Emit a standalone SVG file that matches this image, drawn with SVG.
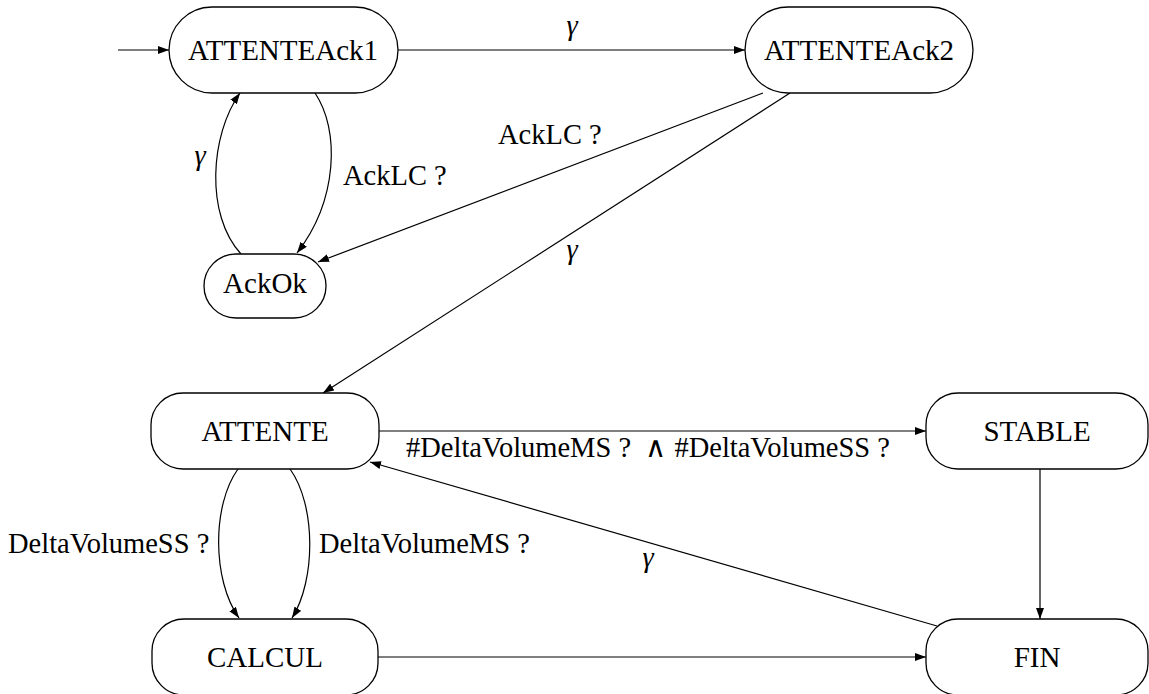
<svg xmlns="http://www.w3.org/2000/svg" width="1149" height="694" viewBox="0 0 1149 694" font-family="'Liberation Serif', 'Times New Roman', Times, serif">
<style>
.node rect{fill:#fff;stroke:#000;stroke-width:1.3}
.node text{font-family:'Liberation Serif','Times New Roman',Times,serif;font-size:29px;text-anchor:middle;fill:#000}
.edges path{fill:none;stroke:#000;stroke-width:1.2;marker-end:url(#arr)}
.lbl{font-family:'Liberation Serif','Times New Roman',Times,serif;font-size:28.5px;fill:#000}
.g{font-style:italic;text-anchor:middle}
</style>
<defs>
<marker id="arr" markerUnits="userSpaceOnUse" markerWidth="12" markerHeight="8" refX="11" refY="4" orient="auto">
<path d="M0,0 L11,4 L0,8 Z" fill="#000"/>
</marker>
</defs>
<g class="edges">
<path d="M118,50 L169,50"/>
<path d="M398,50 L745,50"/>
<path d="M315,93 C340,130 338,200 297,253"/>
<path d="M241,254 C205,215 210,135 240,93"/>
<path d="M763,93 L318,262"/>
<path d="M790,93 L323,393"/>
<path d="M379,431 L926,431"/>
<path d="M238,469 C212,505 212,580 239,618"/>
<path d="M290,469 C316,505 316,580 292,618"/>
<path d="M378,657 L926,657"/>
<path d="M1040,469 L1040,619"/>
<path d="M937,626 L370,462"/>
</g>
<g class="labels">
<text class="lbl g" x="572" y="35">γ</text>
<text class="lbl" x="343" y="185">AckLC ?</text>
<text class="lbl" x="498" y="144">AckLC ?</text>
<text class="lbl g" x="200" y="165">γ</text>
<text class="lbl g" x="572" y="259">γ</text>
<text class="lbl" x="406" y="457">#DeltaVolumeMS ?</text>
<text class="lbl" x="655" y="457" text-anchor="middle">∧</text>
<text class="lbl" x="890" y="457" text-anchor="end">#DeltaVolumeSS ?</text>
<text class="lbl" x="8" y="553">DeltaVolumeSS ?</text>
<text class="lbl" x="319" y="553">DeltaVolumeMS ?</text>
<text class="lbl g" x="648" y="567">γ</text>
</g>
<g id="ATTENTEAck1" class="node"><rect x="169" y="7" width="229" height="86" rx="43"/><text x="283" y="60">ATTENTEAck1</text></g>
<g id="ATTENTEAck2" class="node"><rect x="745" y="7" width="228" height="86" rx="43"/><text x="859" y="60">ATTENTEAck2</text></g>
<g id="AckOk" class="node"><rect x="204" y="254" width="122" height="64" rx="32"/><text x="265" y="293">AckOk</text></g>
<g id="ATTENTE" class="node"><rect x="151" y="393" width="228" height="76" rx="32"/><text x="265" y="441">ATTENTE</text></g>
<g id="STABLE" class="node"><rect x="926" y="393" width="222" height="76" rx="32"/><text x="1037" y="441">STABLE</text></g>
<g id="CALCUL" class="node"><rect x="152" y="619" width="226" height="76" rx="32"/><text x="265" y="667">CALCUL</text></g>
<g id="FIN" class="node"><rect x="926" y="619" width="222" height="76" rx="32"/><text x="1037" y="667">FIN</text></g>
</svg>
